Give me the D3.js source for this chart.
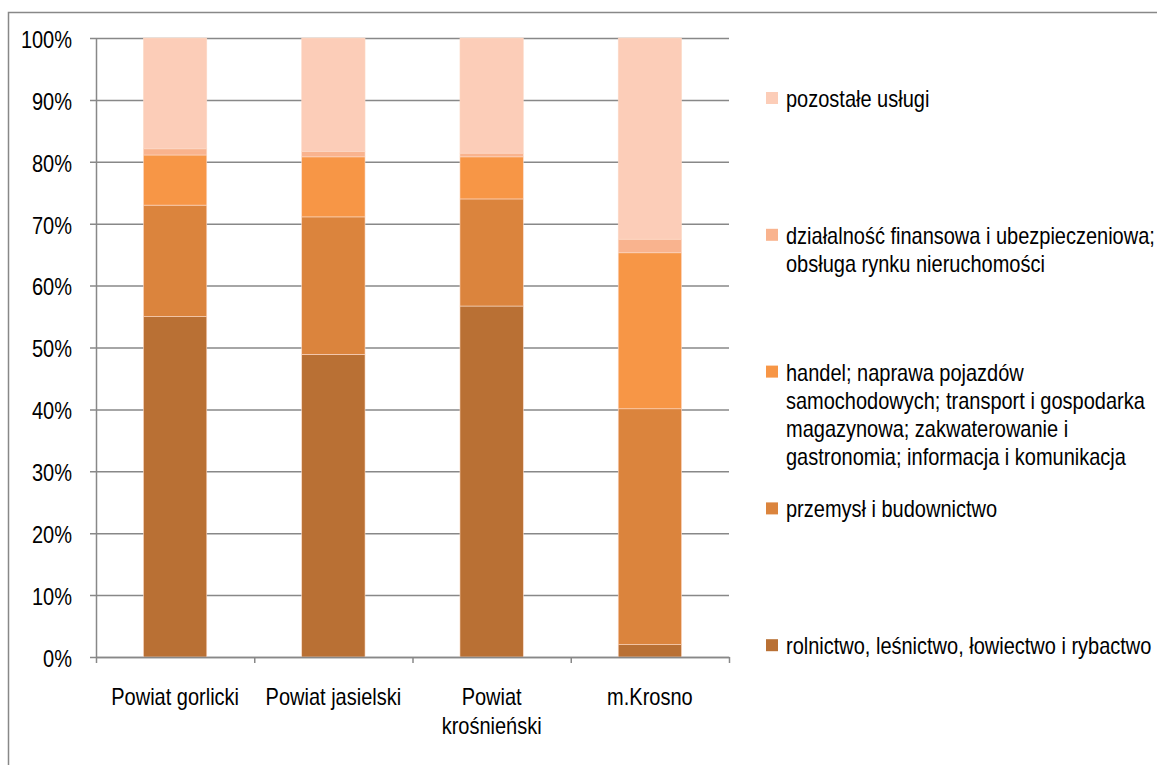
<!DOCTYPE html>
<html>
<head>
<meta charset="utf-8">
<script src="https://cdnjs.cloudflare.com/ajax/libs/d3/7.8.5/d3.min.js"></script>
<style>
  body { margin: 0; background: #fff; }
  text { font-family: "Liberation Sans", Arial, sans-serif; fill: #000; }
</style>
</head>
<body>
<div id="chart"></div>
<script>
// categories (powiaty)
var categories = ['Powiat gorlicki', 'Powiat jasielski', 'Powiat krośnieński', 'm.Krosno'];

// series, bottom to top (shares in %)
var seriesNames = ['rolnictwo', 'przemysl', 'handel', 'finanse', 'pozostale'];
var rolnictwo = [55.0, 48.9, 56.7, 2.0];
var przemysl  = [18.0, 22.2, 17.3, 38.1];
var handel    = [8.1, 9.7, 6.8, 25.2];
var finanse   = [1.0, 0.9, 0.6, 2.2];
var pozostale = [17.9, 18.3, 18.6, 32.5];

// legend labels, top to bottom, pre-broken into lines
var legendLabels = [
  ['pozostałe usługi'],
  ['działalność finansowa i ubezpieczeniowa;', 'obsługa rynku nieruchomości'],
  ['handel; naprawa pojazdów', 'samochodowych; transport i gospodarka', 'magazynowa; zakwaterowanie i', 'gastronomia; informacja i komunikacja'],
  ['przemysł i budownictwo'],
  ['rolnictwo, leśnictwo, łowiectwo i rybactwo']
];
var legendKeys = ['pozostale', 'finanse', 'handel', 'przemysl', 'rolnictwo'];

var yTicks = [0, 10, 20, 30, 40, 50, 60, 70, 80, 90, 100];

var W = 1157, H = 765;
var margin = {top: 38, left: 96},
    width = 633,
    height = 619;
var fontSize = '20px';
var textScale = 'scale(1,1.17)';

var color = d3.scaleOrdinal()
  .domain(seriesNames)
  .range(['#b97034', '#db843d', '#f79646', '#f9b38e', '#fccdb8']);

var table = categories.map(function(c, i) {
  return {cat: c, rolnictwo: rolnictwo[i], przemysl: przemysl[i], handel: handel[i],
          finanse: finanse[i], pozostale: pozostale[i]};
});
var stacked = d3.stack().keys(seriesNames)(table);

var svg = d3.select('#chart').append('svg')
  .attr('width', W)
  .attr('height', H);

// outer frame
svg.append('path')
  .attr('d', 'M8.5,' + H + 'V12.5H' + W)
  .attr('fill', 'none')
  .attr('stroke', '#888')
  .attr('stroke-width', 1.5);

var g = svg.append('g')
  .attr('transform', 'translate(' + margin.left + ',' + margin.top + ')');

var x = d3.scaleBand().domain(categories).range([0, width]).paddingInner(0.6).paddingOuter(0.3);
var xEdge = d3.scaleLinear().domain([0, categories.length]).range([0, width]);
var y = d3.scaleLinear().domain([0, 100]).range([height, 0]);

// y axis with gridlines
var yAxis = g.append('g')
  .call(d3.axisLeft(y).tickValues(yTicks).tickSize(6).tickSizeOuter(0)
    .tickFormat(function(d) { return d + '%'; }));
yAxis.select('.domain').attr('stroke', '#888').attr('stroke-width', 1.5);
yAxis.selectAll('.tick line').attr('stroke', '#888').attr('stroke-width', 1.5)
  .attr('x1', -6).attr('x2', width);
yAxis.selectAll('.tick text')
  .attr('x', -24)
  .attr('dy', '0.4em')
  .attr('transform', textScale)
  .style('font-size', fontSize)
  .style('font-family', '"Liberation Sans", Arial, sans-serif');

// bars
g.selectAll('.layer')
  .data(stacked)
  .enter().append('g')
  .attr('class', 'layer')
  .attr('fill', function(d) { return color(d.key); })
  .selectAll('rect')
  .data(function(d) { return d; })
  .enter().append('rect')
  .attr('x', function(d) { return x(d.data.cat); })
  .attr('y', function(d) { return y(d[1]); })
  .attr('width', x.bandwidth())
  .attr('height', function(d) { return y(d[0]) - y(d[1]); })
  .attr('stroke', '#fcd9c6')
  .attr('stroke-width', 0.6);

// x axis with ticks between categories
var xAxis = g.append('g')
  .attr('transform', 'translate(0,' + height + ')')
  .call(d3.axisBottom(xEdge).tickValues(d3.range(categories.length + 1))
    .tickFormat('').tickSize(6).tickSizeOuter(0));
xAxis.select('.domain').attr('stroke', '#888').attr('stroke-width', 1.5);
xAxis.selectAll('.tick line').attr('stroke', '#888').attr('stroke-width', 1.5);

// category labels, wrapped to the category width
var labels = g.append('g')
  .attr('transform', 'translate(0,' + height + ')')
  .selectAll('g')
  .data(categories)
  .enter().append('g')
  .attr('transform', function(d) {
    return 'translate(' + (x(d) + x.bandwidth() / 2) + ',40) ' + textScale;
  });
labels.append('text')
  .attr('text-anchor', 'middle')
  .style('font-size', fontSize)
  .each(function(d) {
    var t = d3.select(this), words = d.split(' '), line = [];
    var ts = t.append('tspan').attr('x', 0).attr('dy', '0.36em');
    words.forEach(function(w) {
      line.push(w);
      ts.text(line.join(' '));
      if (ts.node().getComputedTextLength() > xEdge(1) - 10 && line.length > 1) {
        line.pop();
        ts.text(line.join(' '));
        line = [w];
        ts = t.append('tspan').attr('x', 0).attr('dy', '1.24em').text(w);
      }
    });
  });

// legend
var legend = svg.append('g');
var items = legend.selectAll('g')
  .data(legendKeys)
  .enter().append('g')
  .attr('transform', function(d, i) { return 'translate(766,' + (100 + i * 136.8) + ')'; });
items.append('rect')
  .attr('x', 0)
  .attr('y', -8)
  .attr('width', 12)
  .attr('height', 12)
  .attr('fill', function(d) { return color(d); });
items.append('g')
  .attr('transform', 'translate(20,0) ' + textScale)
  .append('text')
  .style('font-size', fontSize)
  .selectAll('tspan')
  .data(function(d, i) { return legendLabels[i]; })
  .enter().append('tspan')
  .attr('x', 0)
  .attr('dy', function(d, i) { return i === 0 ? '0.3em' : '1.2em'; })
  .text(function(d) { return d; });
</script>
</body>
</html>
